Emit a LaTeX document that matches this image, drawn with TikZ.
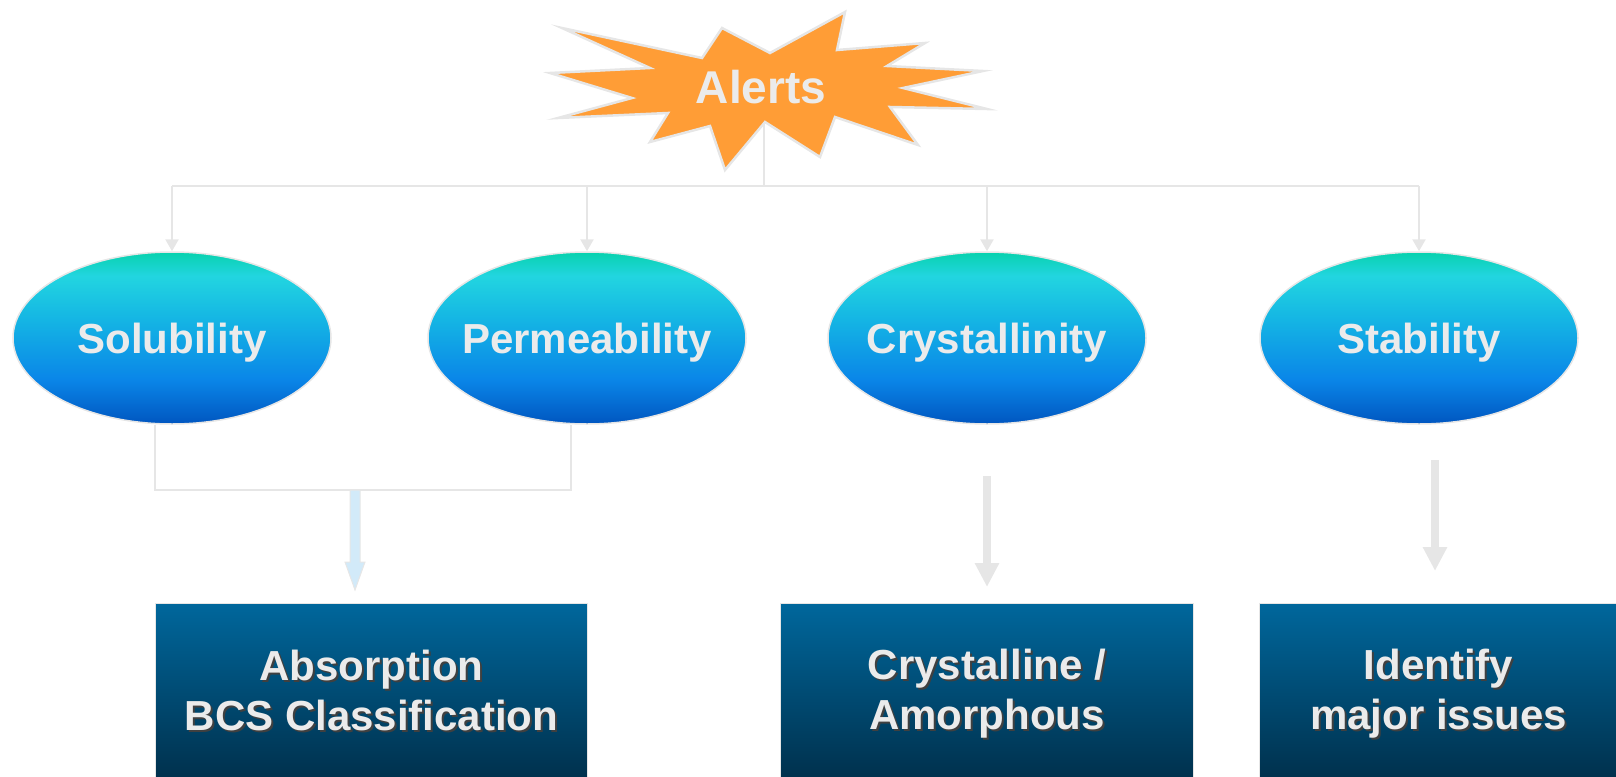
\documentclass[tikz,border=0pt]{standalone}
\usepackage{fontspec}
\setmainfont{Liberation Sans}
\usetikzlibrary{shapes.geometric,arrows.meta,calc}
\definecolor{linegray}{HTML}{E6E6E6}
\definecolor{txtgray}{HTML}{EBEBEB}
\definecolor{starorange}{HTML}{FF9D36}
\definecolor{boxtop}{HTML}{00679C}
\definecolor{boxbot}{HTML}{002C46}
\definecolor{arrowblue}{HTML}{D2EAF9}
\definecolor{ea}{HTML}{0056C0}
\definecolor{eb}{HTML}{0A86E8}
\definecolor{ec}{HTML}{14B4E4}
\definecolor{ed}{HTML}{22D5E0}
\definecolor{ee}{HTML}{08D2AE}
\pgfdeclareverticalshading{ellsh}{100bp}{color(0bp)=(ea); color(25bp)=(ea); color(38bp)=(eb); color(55bp)=(ec); color(68bp)=(ed); color(75bp)=(ee); color(100bp)=(ee)}
\tikzset{
  oval/.style={ellipse, shading=ellsh, draw=linegray, line width=1.5pt,
    minimum width=318pt, minimum height=172pt, inner xsep=-60pt, inner ysep=0pt,
    text=txtgray, font=\fontsize{42}{45}\selectfont\bfseries, text depth=0pt},
  resbox/.style={rectangle, top color=boxtop, bottom color=boxbot, draw=linegray,
    line width=1pt, inner sep=0pt},
  restext/.style={align=center, text=txtgray, font=\fontsize{42}{50}\selectfont\bfseries},
  resshadow/.style={align=center, text=black!75, font=\fontsize{42}{50}\selectfont\bfseries},
  conn/.style={draw=linegray, line width=2.5pt},
  connarrow/.style={conn, -{Triangle[width=13pt,length=12pt]}},
  blockarrow/.style={draw=linegray, line width=7.5pt, -{Triangle[width=23pt,length=24pt]}},
}
\begin{document}
\begin{tikzpicture}[x=1pt,y=-1pt]
\useasboundingbox (0,0) rectangle (1616,776);
% star
\fill[starorange, draw=linegray, line width=2.5pt, line join=miter]
 (562,28) -- (702,58) -- (722,28) -- (770,53) -- (845,12) -- (837,50) -- (925,43) -- (887,66)
 -- (983,71) -- (903,88) -- (987,109) -- (890,107) -- (918,145) -- (835,117) -- (820,157)
 -- (765,122) -- (725,170) -- (710,126) -- (650,142) -- (668,113) -- (558,118) -- (632,98)
 -- (550,73) -- (650,68) -- cycle;
\node[text=txtgray, font=\fontsize{46}{50}\selectfont\bfseries, anchor=base] (alerts) at (761,103) {Alerts};
\coordinate (starbot) at (764,122);
\coordinate (bus) at (764,186);

% ellipses
\node[oval] (sol) at (172,338) {Solubility};
\node[oval] (perm) at (587,338) {Permeability};
\node[oval] (cry) at (987,338) {Crystallinity};
\node[oval] (stab) at (1419,338) {Stability};

% top tree
\draw[conn] (starbot) -- (bus);
\draw[conn] (sol.north |- bus) -- (stab.north |- bus);
\draw[connarrow] (sol.north |- bus) -- (sol.north);
\draw[connarrow] (perm.north |- bus) -- (perm.north);
\draw[connarrow] (cry.north |- bus) -- (cry.north);
\draw[connarrow] (stab.north |- bus) -- (stab.north);

% boxes
\node[resbox, minimum width=432pt, minimum height=190pt, anchor=north west] (absbox) at (155,603) {};
\node[resbox, minimum width=413pt, minimum height=190pt, anchor=north west] (crybox) at (780,603) {};
\node[resbox, minimum width=370pt, minimum height=190pt, anchor=north west] (stabbox) at (1259,603) {};

\node[resshadow] (abssh) at ($(absbox.north)+(2,89)$) {Absorption\\BCS Classification};
\node[restext] (abstxt) at ($(absbox.north)+(0,87)$) {Absorption\\BCS Classification};
\node[resshadow] (crysh) at ($(crybox.north)+(2,93)$) {Crystalline /\\Amorphous};
\node[restext] (crytxt) at ($(crybox.north)+(0,91)$) {Crystalline /\\Amorphous};
\node[resshadow] (stabsh) at ($(stabbox.north)+(-4,93)$) {Identify\\major issues};
\node[restext] (stabtxt) at ($(stabbox.north)+(-6,91)$) {Identify\\major issues};

% merge connector
\coordinate (join) at (355,490);
\draw[conn, line width=2pt] ([xshift=-17pt]sol.south) |- (join) -| ([xshift=-16pt]perm.south);
\draw[draw=linegray, fill=arrowblue, line width=1pt] (join) ++(-5,0) -- ++(0,72) -- ++(-5,0)
  -- ++(10,28) -- ++(10,-28) -- ++(-5,0) -- ++(0,-72) -- cycle;

% block arrows
\draw[blockarrow, shorten <=51pt, shorten >=16pt] (cry.south) -- (cry.south |- crybox.north);
\draw[blockarrow, shorten <=35pt, shorten >=32pt] ([xshift=16pt]stab.south) -- ([xshift=16pt]stab.south |- stabbox.north);
\end{tikzpicture}
\end{document}
